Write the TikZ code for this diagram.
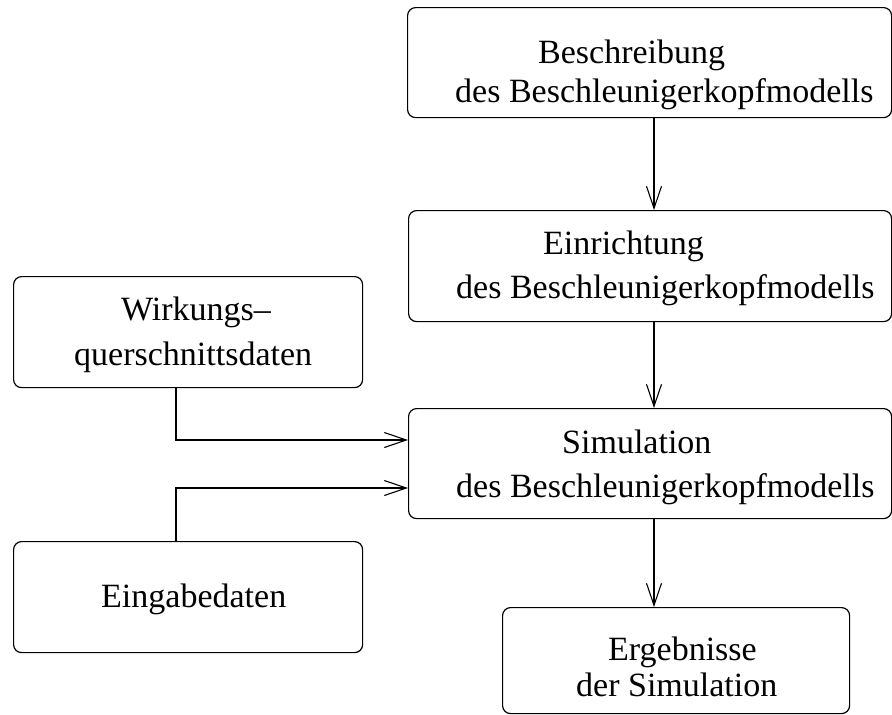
\documentclass[tikz,border=0pt]{standalone}
\usepackage{fontspec}
\setmainfont{Liberation Serif}
\usetikzlibrary{arrows.meta}
\begin{document}
\begin{tikzpicture}[x=1pt,y=-1pt,
  box/.style={draw=black, line width=1.2pt, rounded corners=8pt, inner sep=0pt, anchor=north west},
  txt/.style={anchor=base west, inner sep=0pt, font=\fontsize{34}{40}\selectfont},
  arr/.style={draw=black, line width=1.1pt, -{Straight Barb[length=22pt,width=15pt,line width=1.1pt]}}
]
\useasboundingbox (0,0) rectangle (892,715);
% boxes
\node[box, minimum width=484pt, minimum height=110pt] (b1) at (407,7) {};
\node[box, minimum width=483pt, minimum height=111pt] (b2) at (408,210) {};
\node[box, minimum width=483pt, minimum height=110pt] (b3) at (408,408) {};
\node[box, minimum width=349pt, minimum height=111pt] (bw) at (13,276) {};
\node[box, minimum width=349pt, minimum height=111pt] (be) at (13,541) {};
\node[box, minimum width=347pt, minimum height=106pt] (br) at (502,607) {};
% texts
\node[txt] (t1a) at (538,63) {Beschreibung};
\node[txt] (t1b) at (455,102) {des Beschleunigerkopfmodells};
\node[txt] (t2a) at (543,254) {Einrichtung};
\node[txt] (t2b) at (456,298) {des Beschleunigerkopfmodells};
\node[txt] (t3a) at (562,453) {Simulation};
\node[txt] (t3b) at (456,497) {des Beschleunigerkopfmodells};
\node[txt] (twa) at (121,320) {Wirkungs--};
\node[txt] (twb) at (74,365) {querschnittsdaten};
\node[txt] (tea) at (101,607) {Eingabedaten};
\node[txt] (tra) at (608,660) {Ergebnisse};
\node[txt] (trb) at (576,696) {der Simulation};
% helper coordinates
\coordinate (ax) at (654,0);
\coordinate (wx) at (176,0);
\coordinate (y1) at (0,440);
\coordinate (y2) at (0,488);
% connectors
\draw[arr] (b1.south -| ax) -- (b2.north -| ax);
\draw[arr] (b2.south -| ax) -- (b3.north -| ax);
\draw[arr] (b3.south -| ax) -- (br.north -| ax);
\draw[arr] (bw.south -| wx) |- (b3.west |- y1);
\draw[arr] (be.north -| wx) |- (b3.west |- y2);
\end{tikzpicture}
\end{document}
